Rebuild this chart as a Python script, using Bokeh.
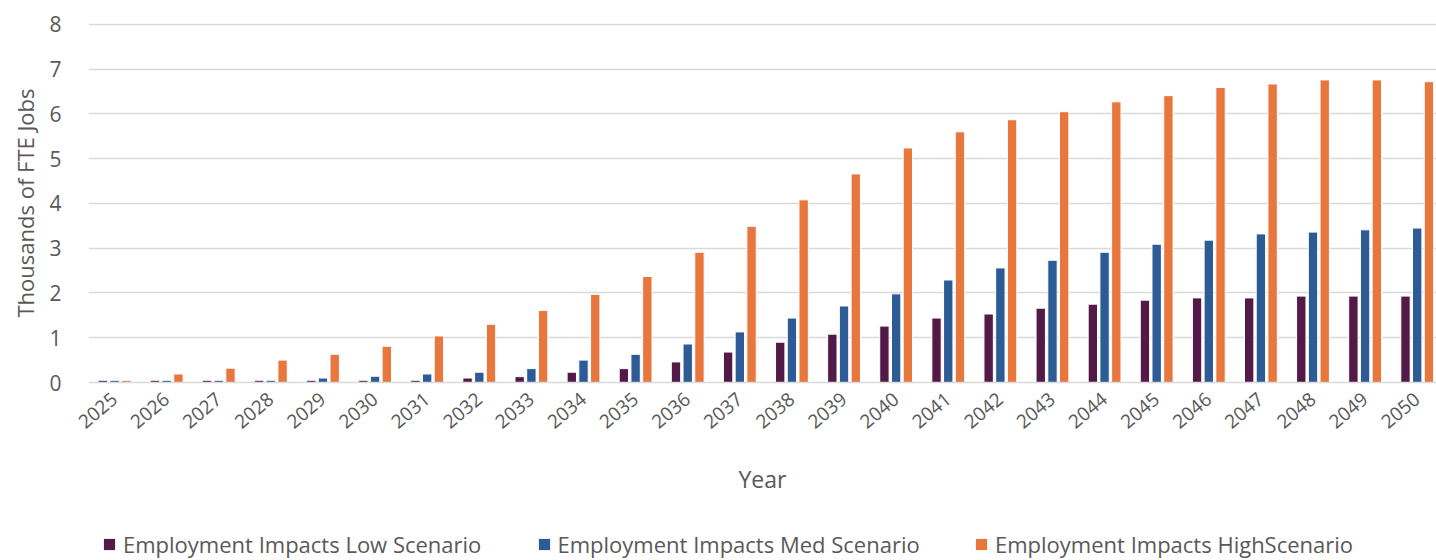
from bokeh.plotting import figure
from bokeh.layouts import column
from bokeh.models import Range1d, FixedTicker, Legend, LegendItem, ColumnDataSource
from bokeh.transform import dodge
from bokeh.embed import file_html
from bokeh.resources import INLINE

years = [2025, 2026, 2027, 2028, 2029, 2030, 2031, 2032, 2033, 2034, 2035, 2036, 2037,
         2038, 2039, 2040, 2041, 2042, 2043, 2044, 2045, 2046, 2047, 2048, 2049, 2050]
low = [0.05, 0.05, 0.05, 0.05, 0.05, 0.05, 0.05, 0.10, 0.13, 0.23, 0.31, 0.46, 0.68,
       0.90, 1.08, 1.26, 1.44, 1.53, 1.66, 1.75, 1.84, 1.89, 1.89, 1.93, 1.93, 1.93]
med = [0.05, 0.05, 0.05, 0.05, 0.10, 0.14, 0.19, 0.23, 0.31, 0.50, 0.63, 0.86, 1.13,
       1.44, 1.71, 1.98, 2.29, 2.56, 2.73, 2.91, 3.09, 3.18, 3.32, 3.36, 3.41, 3.45]
high = [0.05, 0.19, 0.32, 0.50, 0.63, 0.81, 1.04, 1.30, 1.61, 1.97, 2.37, 2.91, 3.49,
        4.08, 4.66, 5.24, 5.60, 5.87, 6.05, 6.27, 6.41, 6.59, 6.67, 6.76, 6.76, 6.72]
series_names = ["Employment Impacts Low Scenario",
                "Employment Impacts Med Scenario",
                "Employment Impacts HighScenario"]
y_ticks = [0, 1, 2, 3, 4, 5, 6, 7, 8]

colors = ["#531a48", "#2d5b95", "#e8773e"]
fields = ["low", "med", "high"]
FONT = "Open Sans"
TXT = "#595959"

src = ColumnDataSource(dict(year=years, low=low, med=med, high=high))

p = figure(width=1436, height=520, output_backend="svg", toolbar_location=None,
           x_range=Range1d(2024.5, 2050.37), y_range=Range1d(0, 8.02),
           min_border_left=88, min_border_right=0, min_border_top=23,
           min_border_bottom=138)
p.outline_line_color = None
p.background_fill_color = "white"

renderers = []
for field, off, col in zip(fields, [-0.225, 0.0, 0.225], colors):
    r = p.vbar(x=dodge("year", off), top=field, width=0.18, source=src,
               fill_color=col, line_color="white", line_width=1)
    renderers.append(r)

# x axis
p.xaxis.ticker = FixedTicker(ticks=years)
p.xaxis.major_label_orientation = 0.70
p.xaxis.axis_line_color = "#d9d9d9"
p.xaxis.axis_line_width = 1.5
p.xaxis.major_tick_line_color = None
p.xaxis.minor_tick_line_color = None
p.xaxis.major_label_standoff = 8
p.xaxis.major_label_text_font = FONT
p.xaxis.major_label_text_font_size = "19px"
p.xaxis.major_label_text_color = TXT
p.xaxis.axis_label = "Year"
p.xaxis.axis_label_standoff = 26
p.xaxis.axis_label_text_font = FONT
p.xaxis.axis_label_text_font_size = "23px"
p.xaxis.axis_label_text_font_style = "normal"
p.xaxis.axis_label_text_color = TXT
p.xgrid.grid_line_color = None

# y axis
p.yaxis.ticker = FixedTicker(ticks=y_ticks)
p.yaxis.axis_line_color = None
p.yaxis.major_tick_line_color = None
p.yaxis.minor_tick_line_color = None
p.yaxis.major_label_standoff = 21
p.yaxis.major_label_text_font = FONT
p.yaxis.major_label_text_font_size = "21px"
p.yaxis.major_label_text_color = TXT
p.yaxis.axis_label = "Thousands of FTE Jobs"
p.yaxis.axis_label_standoff = 6
p.yaxis.axis_label_text_font = FONT
p.yaxis.axis_label_text_font_size = "22px"
p.yaxis.axis_label_text_font_style = "normal"
p.yaxis.axis_label_text_color = TXT
p.ygrid.grid_line_color = "#d9d9d9"
p.ygrid.grid_line_width = 1.5

# legend strip (its ranges keep its stand-in markers out of view)
p2 = figure(width=1436, height=40, output_backend="svg", toolbar_location=None,
            x_range=Range1d(0, 1), y_range=Range1d(0, 1), min_border=0,
            x_axis_location=None, y_axis_location=None)
p2.outline_line_color = None
p2.grid.visible = False

legend_x = [7, 441.5, 879]
for name, field, col, lx in zip(series_names, fields, colors, legend_x):
    stand_in = p2.scatter(x="year", y=field, source=src, marker="square",
                          fill_color=col, line_color=None)
    leg = Legend(items=[LegendItem(label=name, renderers=[stand_in])],
                 location=(lx, 1.2), orientation="horizontal",
                 padding=0, margin=0, border_line_color=None,
                 background_fill_alpha=0, glyph_width=28, glyph_height=30,
                 label_standoff=0, label_height=30,
                 label_text_font=FONT, label_text_font_size="22px",
                 label_text_color=TXT)
    p2.add_layout(leg)

layout = column(p, p2, spacing=0)
open("out.html", "w").write(file_html(layout, INLINE))
